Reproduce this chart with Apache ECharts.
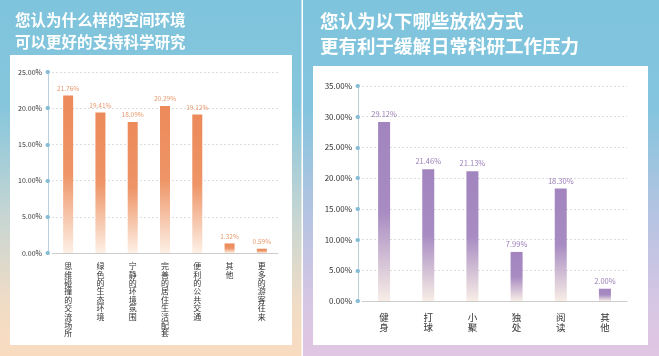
<!DOCTYPE html>
<html>
<head>
<meta charset="utf-8">
<script src="https://cdn.jsdelivr.net/npm/echarts@6/dist/echarts.min.js"></script>
<style>
html,body{margin:0;padding:0;background:#fff;}
#c{width:659px;height:356px;}
</style>
</head>
<body>
<div id="c"></div>
<script>
// Data
var leftTitle = '您认为什么样的空间环境\n可以更好的支持科学研究';
var rightTitle = '您认为以下哪些放松方式\n更有利于缓解日常科研工作压力';
var leftCategories = ['思维碰撞的交流场所','绿色的生态环境','宁静的环境氛围','完善的居住生活配套','便利的公共交通','其他','更多的游客往来'];
var leftValues = [21.76, 19.41, 18.09, 20.29, 19.12, 1.32, 0.59];
var rightCategories = ['健身','打球','小聚','独处','阅读','其他'];
var rightValues = [29.12, 21.46, 21.13, 7.99, 18.30, 2.00];
var leftTicks = {min:0, max:25, interval:5};
var rightTicks = {min:0, max:35, interval:5};

var FONT = '"Noto Sans CJK SC","Noto Sans",sans-serif';
var chart = echarts.init(document.getElementById('c'));

function vert(s){ return s.split('').join('\n'); }
function grad(stops){
  return {type:'linear', x:0, y:0, x2:0, y2:1, colorStops: stops.map(function(s){return {offset:s[0], color:s[1]};})};
}
function yAxis(idx, t, fs){
  return {
    type:'value', gridIndex:idx, min:t.min, max:t.max, interval:t.interval, offset:4,
    axisLine:{show:true, lineStyle:{color:'#b9d0dc', width:1}},
    axisTick:{show:true, length:0.5, lineStyle:{color:'#86bcd4', width:4, cap:'round'}},
    axisLabel:{fontFamily:FONT, fontSize:fs, color:'#333', margin:6, formatter:function(v){return v.toFixed(2)+'%';}},
    splitLine:{show:true, lineStyle:{color:'#dddddd', type:[2,2], width:1}}
  };
}
function xAxis(idx, cats, fs, lh, margin){
  return {
    type:'category', gridIndex:idx, data:cats,
    axisLine:{show:true, lineStyle:{color:'#cccccc'}},
    axisTick:{show:false},
    axisLabel:{interval:0, fontFamily:FONT, fontSize:fs, lineHeight:lh, color:'#333', margin:margin, verticalAlign:'top', formatter:vert}
  };
}

chart.setOption({
  animation:false,
  graphic:[
    {type:'rect', z:-10, shape:{x:0,y:0,width:302,height:356}, style:{fill:grad([[0,'#7ec4dc'],[0.3,'#86c6dc'],[0.62,'#c9d6d2'],[0.85,'#f0dcc6'],[1,'#f9dcc0']])}},
    {type:'rect', z:-10, shape:{x:303,y:0,width:356,height:356}, style:{fill:grad([[0,'#7ec4dc'],[0.3,'#84c4de'],[0.62,'#b7c4e2'],[0.85,'#d6c6e4'],[1,'#e0c6e2']])}},
    {type:'rect', z:-10, shape:{x:301.5,y:0,width:1.5,height:356}, style:{fill:'#ffffff'}},
    {type:'rect', z:-9, shape:{x:10,y:55,width:282,height:290}, style:{fill:'#ffffff'}},
    {type:'rect', z:-9, shape:{x:313,y:66,width:335,height:279}, style:{fill:'#ffffff'}}
  ],
  title:[
    {text:leftTitle, left:10, top:4, textStyle:{fontFamily:FONT, fontSize:15.5, fontWeight:'bold', color:'#ffffff', lineHeight:22}},
    {text:rightTitle, left:315, top:3, textStyle:{fontFamily:FONT, fontSize:18.5, fontWeight:'bold', color:'#ffffff', lineHeight:25}}
  ],
  grid:[
    {left:52, right:381, top:72, bottom:103},
    {left:362, right:32, top:86, bottom:55}
  ],
  xAxis:[ xAxis(0, leftCategories, 8, 8.4, 9), xAxis(1, rightCategories, 9.5, 10.5, 11) ],
  yAxis:[ yAxis(0, leftTicks, 7), yAxis(1, rightTicks, 8) ],
  series:[
    {type:'bar', xAxisIndex:0, yAxisIndex:0, data:leftValues, barWidth:10,
     itemStyle:{color:grad([[0,'#ec8a5a'],[0.5,'#ee9466'],[1,'#fdf0e6']])},
     label:{show:true, position:'top', distance:4, fontFamily:FONT, fontSize:6.5, color:'#e89a70', formatter:function(p){return p.value.toFixed(2)+'%';}}},
    {type:'bar', xAxisIndex:1, yAxisIndex:1, data:rightValues, barWidth:12,
     itemStyle:{color:grad([[0,'#a285be'],[0.5,'#a78bc2'],[1,'#f8ede6']])},
     label:{show:true, position:'top', distance:4, fontFamily:FONT, fontSize:7.5, color:'#9a7cb6', formatter:function(p){return p.value.toFixed(2)+'%';}}}
  ]
});
</script>
</body>
</html>
